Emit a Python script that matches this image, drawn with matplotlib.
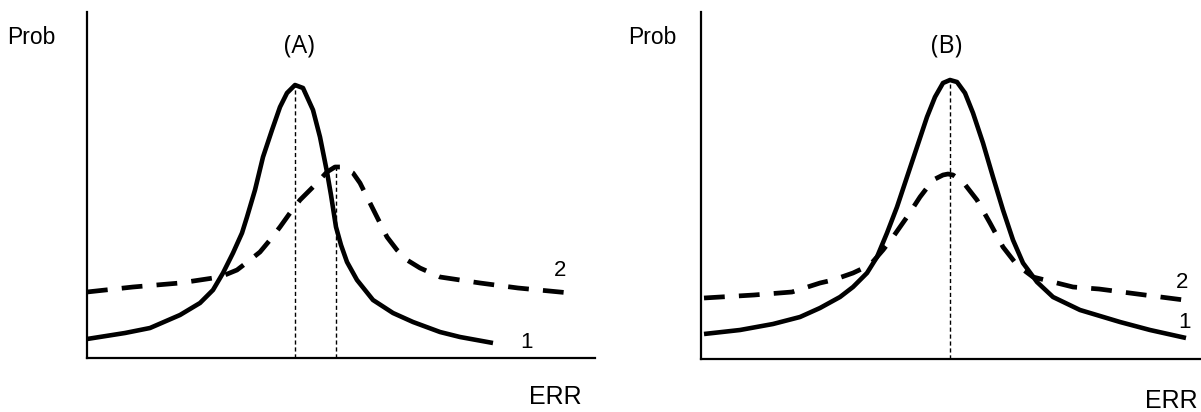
import matplotlib
matplotlib.use("Agg")
import matplotlib.pyplot as plt

# readings (ERR along the axis, Prob above the axis)
err_a1 = [0, 38, 63, 93, 113, 126, 136, 146, 155, 160, 168, 176, 185, 193, 200, 208,
          216, 226, 233, 240, 244, 249, 254, 260, 270, 286, 306, 326, 353, 373, 406]
prob_a1 = [19, 25, 30, 43, 55, 68, 85, 105, 125, 141, 168, 201, 228, 251, 265, 273,
           270, 248, 221, 186, 163, 131, 113, 96, 78, 58, 45, 36, 26, 21, 15]
err_a2 = [0, 46, 93, 113, 133, 150, 163, 173, 183, 193, 203, 213, 226, 240, 248, 255,
          266, 273, 280, 290, 300, 310, 320, 333, 353, 393, 431, 483]
prob_a2 = [66, 71, 75, 78, 81, 88, 98, 106, 118, 131, 145, 158, 171, 186, 191, 191,
           185, 175, 161, 141, 121, 108, 98, 90, 81, 75, 70, 65]
peaks_a = [208, 249]
peak_prob_a = [273, 190]

err_b1 = [3, 39, 72, 99, 119, 139, 152, 166, 176, 186, 196, 206, 216, 226, 234, 242,
          249, 256, 264, 272, 282, 292, 302, 312, 322, 336, 352, 379, 419, 449, 485]
prob_b1 = [25, 29, 35, 42, 51, 62, 72, 86, 102, 126, 152, 182, 212, 242, 262, 276,
           279, 277, 266, 246, 216, 182, 149, 119, 96, 77, 62, 49, 37, 29, 21]
err_b2 = [3, 53, 91, 119, 132, 152, 169, 182, 192, 206, 219, 232, 242, 247, 252, 262,
          276, 289, 302, 316, 332, 352, 372, 398, 444, 483]
prob_b2 = [61, 64, 67, 76, 79, 86, 94, 109, 122, 142, 162, 179, 184, 185, 184, 177,
           159, 136, 112, 94, 82, 77, 72, 70, 64, 59]
peaks_b = [249]
peak_prob_b = [279]

W, H = 1201, 412
fig = plt.figure(figsize=(W / 100, H / 100), dpi=100)

def panel(rect, xmax, ymax, e1, p1, e2, p2, peaks, peak_prob):
    ax = fig.add_axes(rect)
    ax.plot(e1, p1, color="black", lw=3.3, solid_capstyle="butt", solid_joinstyle="round")
    ax.plot(e2, p2, color="black", lw=3.4, dashes=(4.4, 3.0), dash_capstyle="butt",
            dash_joinstyle="round")
    for e, p in zip(peaks, peak_prob):
        ax.plot([e, e], [0, p], color="black", lw=1.0, dashes=(3, 2))
    ax.set_xlim(0, xmax)
    ax.set_ylim(0, ymax)
    for s in ["top", "right"]:
        ax.spines[s].set_visible(False)
    for s in ["left", "bottom"]:
        ax.spines[s].set_linewidth(1.6)
    ax.set_xticks([])
    ax.set_yticks([])
    ax.patch.set_alpha(0)
    return ax

panel([87 / W, 1 - 358 / H, 508 / W, 346 / H], 508, 346,
      err_a1, prob_a1, err_a2, prob_a2, peaks_a, peak_prob_a)
panel([701 / W, 1 - 359 / H, 500 / W, 347 / H], 500, 347,
      err_b1, prob_b1, err_b2, prob_b2, peaks_b, peak_prob_b)

def label(x, y, s, size=16, family=("Liberation Sans", "DejaVu Sans")):
    fig.text(x / W, 1 - y / H, s, ha="center", va="center", fontsize=size,
             family=list(family))

label(31, 37, "Prob", size=16.5)
label(652, 37, "Prob", size=16.5)
label(555, 397, "ERR", size=18)
label(1171, 401, "ERR", size=18)
label(560, 270, "2")
label(527, 342, "1")
label(1182, 282, "2")
label(1184, 323, "1")
label(299, 46, "(A)", size=18, family=("Open Sans", "DejaVu Sans"))
label(947, 46, "(B)", size=18, family=("Open Sans", "DejaVu Sans"))

fig.savefig("out.png", dpi=100)
